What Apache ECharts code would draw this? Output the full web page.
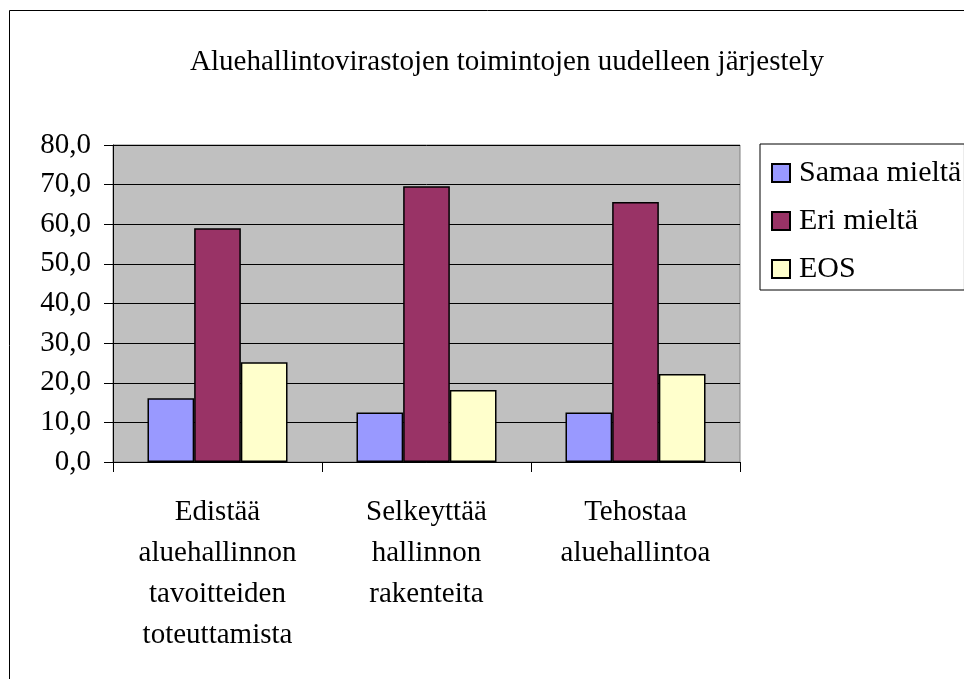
<!DOCTYPE html>
<html>
<head>
<meta charset="utf-8">
<script src="https://cdn.jsdelivr.net/npm/echarts@6/dist/echarts.min.js"></script>
<style>
html, body { margin: 0; padding: 0; background: #fff; }
#chart { width: 964px; height: 679px; }
</style>
</head>
<body>
<div id="chart"></div>
<script>
var categories = ['Edistää\naluehallinnon\ntavoitteiden\ntoteuttamista', 'Selkeyttää\nhallinnon\nrakenteita', 'Tehostaa\naluehallintoa'];
var samaa = [16.1, 12.5, 12.5];
var eri = [59.0, 69.6, 65.6];
var eos = [25.2, 18.2, 22.2];
var seriesNames = ['Samaa mieltä', 'Eri mieltä', 'EOS'];

var font = '"Liberation Serif", "Times New Roman", serif';
var mychart = echarts.init(document.querySelector('#chart'));

function barSeries(name, data, color) {
    return {
        name: name,
        type: 'bar',
        data: data,
        barGap: '0%',
        barCategoryGap: '33%',
        itemStyle: { color: color, borderColor: '#000', borderWidth: 1.5 }
    };
}

var option = {
    animation: false,
    backgroundColor: '#fff',
    title: {
        text: 'Aluehallintovirastojen toimintojen uudelleen järjestely',
        left: 502, top: 43, textAlign: 'center',
        textStyle: { fontFamily: font, fontSize: 29, fontWeight: 'normal', color: '#000' }
    },
    legend: {
        orient: 'vertical',
        left: 760, top: 144,
        padding: [14, 3, 6, 11],
        itemWidth: 18, itemHeight: 18, itemGap: 18,
        borderColor: '#000', borderWidth: 1,
        icon: 'rect',
        textStyle: { fontFamily: font, fontSize: 30, color: '#000', padding: [0, 0, 0, 4] },
        data: seriesNames
    },
    grid: { left: 113, top: 145, right: 224, bottom: 217, show: true, backgroundColor: '#c0c0c0', borderColor: '#808080', borderWidth: 1 },
    xAxis: {
        type: 'category',
        data: categories,
        axisLine: { lineStyle: { color: '#000', width: 1 } },
        axisTick: { show: true, length: 10, lineStyle: { color: '#000' } },
        axisLabel: { fontFamily: font, fontSize: 29, color: '#000', lineHeight: 41, margin: 30, interval: 0 }
    },
    yAxis: {
        type: 'value',
        min: 0, max: 80, interval: 10,
        axisLine: { show: true, lineStyle: { color: '#000', width: 1 } },
        axisTick: { show: true, length: 9, lineStyle: { color: '#000' } },
        axisLabel: { fontFamily: font, fontSize: 29, color: '#000', margin: 22, formatter: function (v) { return v.toFixed(1).replace('.', ','); } },
        splitLine: { lineStyle: { color: '#000', width: 1 } }
    },
    graphic: [{
        type: 'rect',
        shape: { x: 9.5, y: 10.5, width: 1000, height: 700 },
        style: { fill: 'none', stroke: '#000', lineWidth: 1 },
        silent: true
    }],
    series: [
        barSeries(seriesNames[0], samaa, '#9999ff'),
        barSeries(seriesNames[1], eri, '#993366'),
        barSeries(seriesNames[2], eos, '#ffffcc')
    ]
};
mychart.setOption(option);
</script>
</body>
</html>
